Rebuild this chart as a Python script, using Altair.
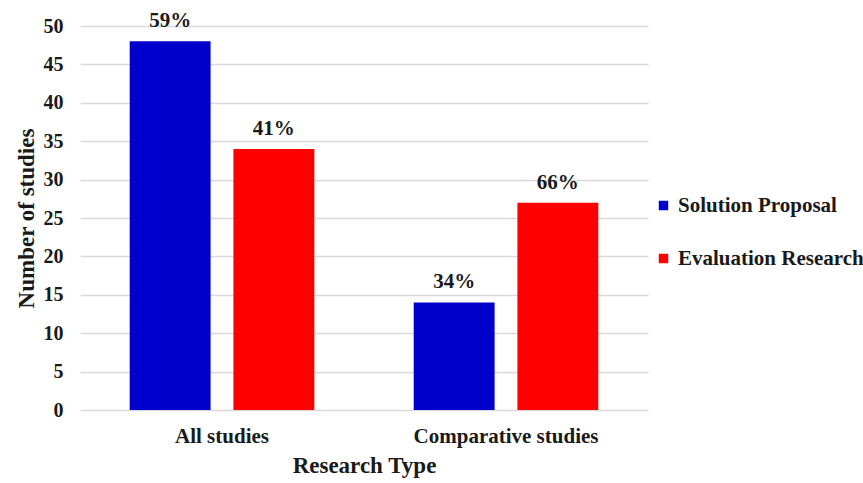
import altair as alt
import pandas as pd

# Study counts by research type and category
research_types = ["All studies", "All studies", "Comparative studies", "Comparative studies"]
categories = ["Solution Proposal", "Evaluation Research", "Solution Proposal", "Evaluation Research"]
counts = [48, 34, 14, 27]
shares = ["59%", "41%", "34%", "66%"]
y_ticks = [0, 5, 10, 15, 20, 25, 30, 35, 40, 45, 50]

series_order = ["Solution Proposal", "Evaluation Research"]
series_colors = ["#0000CC", "#FF0000"]

df = pd.DataFrame({
    "type": research_types,
    "category": categories,
    "count": counts,
    "share": shares,
})

FONT = "Liberation Serif"

x_enc = alt.X(
    "type:N",
    title="Research Type",
    scale=alt.Scale(paddingInner=0.35, paddingOuter=0.175),
    axis=alt.Axis(labelAngle=0, labelFontSize=21, labelPadding=15, labelLimit=400,
                  titleFontSize=23, titlePadding=8, ticks=False, domain=False),
)
xoff_enc = alt.XOffset(
    "category:N",
    sort=series_order,
    scale=alt.Scale(paddingInner=0.22, paddingOuter=0),
)
y_enc = alt.Y(
    "count:Q",
    title="Number of studies",
    scale=alt.Scale(domain=[0, 50]),
    axis=alt.Axis(values=y_ticks, tickCount=11, labelOverlap=False, labelFontSize=20,
                  labelPadding=17, titleFontSize=23, titlePadding=5, ticks=False,
                  domain=False, gridColor="#d9d9d9", gridWidth=1.5),
)

bars = alt.Chart(df).mark_bar().encode(
    x=x_enc,
    xOffset=xoff_enc,
    y=y_enc,
    color=alt.Color(
        "category:N",
        sort=series_order,
        scale=alt.Scale(domain=series_order, range=series_colors),
        legend=alt.Legend(
            title=None, orient="none", legendX=573, legendY=169,
            labelFontSize=21, labelFont=FONT, labelFontWeight="bold", labelColor="#1a1a1a",
            labelLimit=400, symbolType="square", symbolSize=90, symbolStrokeWidth=0,
            rowPadding=31, labelOffset=4,
        ),
    ),
)

labels = alt.Chart(df).mark_text(
    font=FONT, fontWeight="bold", fontSize=21, baseline="alphabetic", dy=-14, color="#1a1a1a"
).encode(
    x=x_enc,
    xOffset=alt.XOffset("category:N", sort=series_order),
    y=y_enc,
    text="share:N",
)

chart = (
    alt.layer(bars, labels)
    .properties(
        width=568,
        height=384,
        autosize=alt.AutoSizeParams(type="none"),
        padding={"left": 80, "top": 26, "right": 215, "bottom": 73},
        background="white",
    )
    .configure_view(stroke=None)
    .configure_axis(
        labelFont=FONT, titleFont=FONT, labelFontWeight="bold", titleFontWeight="bold",
        labelColor="#1a1a1a", titleColor="#1a1a1a",
    )
)

chart.save("out.html", embed_options={"renderer": "svg", "actions": False})
